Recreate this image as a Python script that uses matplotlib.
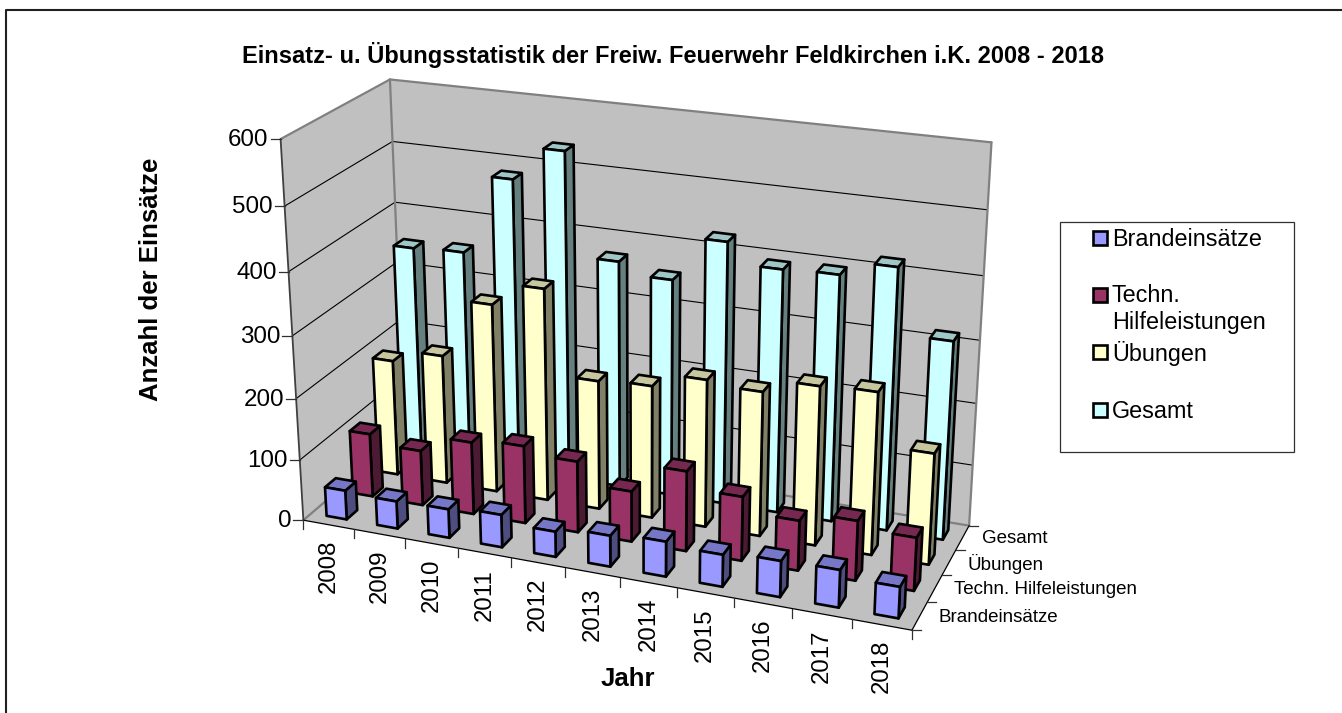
#!/usr/bin/env python
# -*- coding: utf-8 -*-

'''
Einsatz- und Uebungsstatistik, 3D column chart in the old spreadsheet look.
'''

import numpy as np
import matplotlib
matplotlib.use("Agg")
import matplotlib.pyplot as plt
from matplotlib.patches import Polygon, Rectangle

plt.rcParams['font.family'] = ['Liberation Sans', 'DejaVu Sans']

years = ['2008', '2009', '2010', '2011', '2012', '2013', '2014', '2015', '2016', '2017', '2018']
seriesNames = ['Brandeinsätze', 'Techn. Hilfeleistungen', 'Übungen', 'Gesamt']
brand = [48, 45, 47, 53, 41, 50, 56, 51, 57, 59, 49]
techn = [105, 91, 119, 127, 116, 82, 129, 103, 80, 95, 84]
uebungen = [193, 214, 310, 347, 211, 216, 239, 233, 255, 259, 177]
gesamt = [350, 354, 482, 536, 372, 354, 425, 393, 396, 419, 317]
valueTicks = [0, 100, 200, 300, 400, 500, 600]
colours = ['#9999FF', '#993366', '#FFFFCC', '#CCFFFF']

# camera matrix, calibrated on the floor and wall corners of the picture
# world: x = year cell, y = series cell, z = value / 100
camera = np.array([
    [47.571246, 34.130999, -6.76176, 303.385058],
    [4.643836, -12.219127, -64.987756, 520.178997],
    [-0.008503, 0.021854, -0.010556, 1.0]])


def project(x, y, value):
    q = camera @ np.array([x, y, value / 100.0, 1.0])
    return q[0] / q[2], q[1] / q[2]


def shade(colour, factor):
    rgb = np.array(matplotlib.colors.to_rgb(colour))
    return tuple(rgb * factor)


def face(ax, points, colour, zorder=3, lw=1.9, edge='black'):
    ax.add_patch(Polygon([project(*p) for p in points], closed=True, facecolor=colour,
                         edgecolor=edge, linewidth=lw, joinstyle='round', zorder=zorder))


def line(ax, a, b, colour, lw, zorder=2):
    pa = project(*a)
    pb = project(*b)
    ax.plot([pa[0], pb[0]], [pa[1], pb[1]], color=colour, linewidth=lw, zorder=zorder,
            solid_capstyle='round')


def drawBar(ax, i, s, value, colour):
    x0, x1 = i + 0.3, i + 0.7
    y0, y1 = s + 0.3, s + 0.7
    face(ax, [(x1, y0, 0), (x1, y1, 0), (x1, y1, value), (x1, y0, value)], shade(colour, 0.5))
    face(ax, [(x0, y0, value), (x1, y0, value), (x1, y1, value), (x0, y1, value)], shade(colour, 0.78))
    face(ax, [(x0, y0, 0), (x1, y0, 0), (x1, y0, value), (x0, y0, value)], colour)


def main():
    fig = plt.figure(figsize=(13.42, 7.13), dpi=100)
    ax = fig.add_axes([0, 0, 1, 1])
    ax.set_xlim(0, 1342)
    ax.set_ylim(713, 0)
    ax.axis('off')

    # outer chart border, only top and left are inside the picture
    ax.plot([6, 6, 1342], [713, 10, 10], color='#202020', linewidth=1.5, zorder=1)

    nx = len(years)
    ny = len(seriesNames)
    top = valueTicks[-1]
    wall = '#C0C0C0'
    edge = '#808080'

    # walls and floor
    face(ax, [(0, 0, 0), (0, ny, 0), (0, ny, top), (0, 0, top)], wall, 1, 0, wall)
    face(ax, [(0, ny, 0), (nx, ny, 0), (nx, ny, top), (0, ny, top)], wall, 1, 0, wall)
    face(ax, [(0, 0, 0), (nx, 0, 0), (nx, ny, 0), (0, ny, 0)], wall, 1, 0, wall)

    for v in valueTicks[1:-1]:
        line(ax, (0, 0, v), (0, ny, v), 'black', 0.8)
        line(ax, (0, ny, v), (nx, ny, v), 'black', 0.8)

    line(ax, (0, 0, top), (0, ny, top), edge, 1.6)
    line(ax, (0, ny, top), (nx, ny, top), edge, 1.6)
    line(ax, (nx, ny, top), (nx, ny, 0), edge, 1.6)
    line(ax, (0, ny, top), (0, ny, 0), edge, 1.6)
    line(ax, (0, 0, 0), (0, ny, 0), edge, 1.6)
    line(ax, (0, ny, 0), (nx, ny, 0), edge, 1.6)

    # bars, back row first, left to right
    table = [brand, techn, uebungen, gesamt]
    for s in range(ny - 1, -1, -1):
        for i in range(nx):
            drawBar(ax, i, s, table[s][i], colours[s])

    # value axis
    line(ax, (0, 0, 0), (0, 0, top), '#404040', 1.3, 4)
    for v in valueTicks:
        px, py = project(0, 0, v)
        ax.plot([px - 10, px], [py, py], color='#303030', linewidth=0.9, zorder=4)
        ax.text(px - 12, py + 1, str(v), ha='right', va='center', fontsize=17.4, color='black')

    # year axis
    line(ax, (0, 0, 0), (nx, 0, 0), 'black', 0.9, 2)
    for i in range(nx + 1):
        px, py = project(i, 0, 0)
        ax.plot([px, px], [py, py + 9], color='#303030', linewidth=0.9, zorder=4)
    for i, year in enumerate(years):
        px, py = project(i + 0.5, 0, 0)
        ax.text(px, py + 42, year, rotation=90, ha='center', va='center', fontsize=17.3)

    # series axis
    line(ax, (nx, 0, 0), (nx, ny, 0), 'black', 0.9, 2)
    for s in range(ny + 1):
        px, py = project(nx, s, 0)
        ax.plot([px, px + 9], [py, py], color='#303030', linewidth=0.9, zorder=4)
    for s, name in enumerate(seriesNames):
        px, py = project(nx, s + 0.5, 0)
        ax.text(px + 19, py + 1, name, ha='left', va='center', fontsize=13.5)

    # titles
    ax.text(673, 55, 'Einsatz- u. Übungsstatistik der Freiw. Feuerwehr Feldkirchen i.K. 2008 - 2018',
            ha='center', va='center', fontsize=17.05, fontweight='bold')
    ax.text(151, 279, 'Anzahl der Einsätze', rotation=90, ha='center', va='center',
            fontsize=18.5, fontweight='bold')
    ax.text(628, 679, 'Jahr', ha='center', va='center', fontsize=18.5, fontweight='bold')

    # legend
    ax.add_patch(Rectangle((1060, 222), 234, 230, facecolor='white', edgecolor='#303030',
                           linewidth=0.9, zorder=2))
    legendText = ['Brandeinsätze', 'Techn.\nHilfeleistungen', 'Übungen', 'Gesamt']
    legendSwatch = [238, 295, 352, 410]
    legendLabel = [239, 309, 354, 411]
    for c, text, sy, ly in zip(colours, legendText, legendSwatch, legendLabel):
        ax.add_patch(Rectangle((1092.5, sy - 7), 14, 14, facecolor=c, edgecolor='black',
                               linewidth=1.9, zorder=3))
        ax.text(1112, ly, text, ha='left', va='center', fontsize=16.8, linespacing=1.22, zorder=3)

    fig.savefig('out.png', dpi=100)


if (__name__ == "__main__"):
    main()
